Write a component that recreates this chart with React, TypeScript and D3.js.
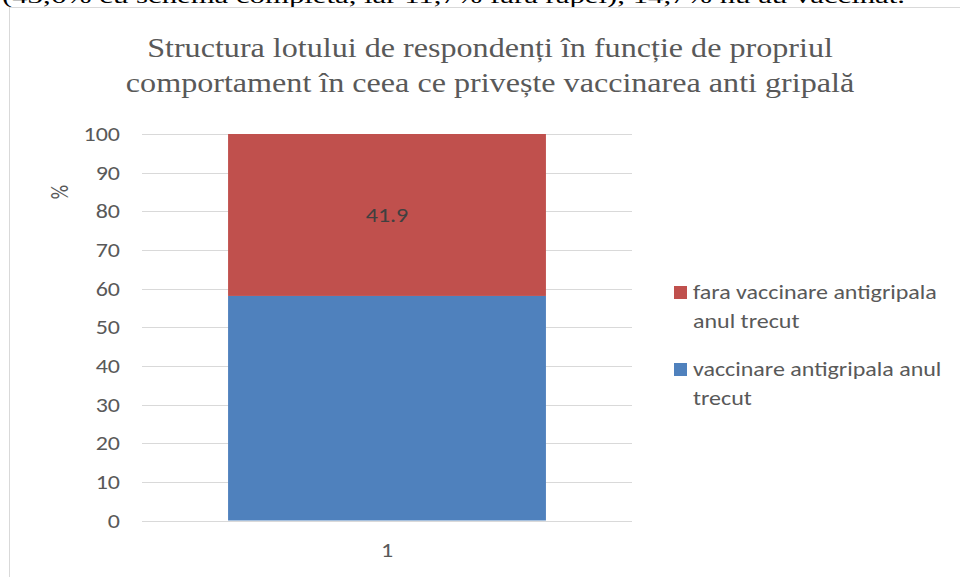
import React from "react";
import * as d3 from "d3";

const categories = ["1"];
const seriesNames = ["vaccinare antigripala anul trecut", "fara vaccinare antigripala anul trecut"];
const vaccinated = [58.1];
const notVaccinated = [41.9];
const yTicks = [0, 10, 20, 30, 40, 50, 60, 70, 80, 90, 100];
const titleLines = [
  "Structura lotului de respondenți în funcție de propriul",
  "comportament în ceea ce privește vaccinarea anti gripală",
];
const legendLines = [
  ["fara vaccinare antigripala", "anul trecut"],
  ["vaccinare antigripala anul", "trecut"],
];
const topText = "(43,6% cu schema completă, iar 11,7% fără rapel), 14,7% nu au vaccinat.";

const W = 960;
const H = 577;
const COLORS = { blue: "#4F81BD", red: "#C0504D" };
const SANS = "Carlito, Calibri, Lato, 'Open Sans', sans-serif";
const SERIF = "'Liberation Serif', 'Times New Roman', serif";
const SX_SANS = 1.2;
const SX_SERIF = 1.19;

function SText(props: {
  x: number; y: number; sx: number; anchor?: string; family: string; size: number; fill: string;
  dy?: string; children: any;
}) {
  const { x, y, sx, anchor, family, size, fill, dy, children } = props;
  return (
    <text
      transform={`translate(${x},${y}) scale(${sx},1)`}
      textAnchor={anchor || "start"}
      fontFamily={family}
      fontSize={size}
      fill={fill}
      dy={dy}
    >
      {children}
    </text>
  );
}

export default function App() {
  const y = d3.scaleLinear().domain([0, 100]).range([520.5, 134]);
  const x = d3.scaleBand().domain(categories).range([142, 632]).paddingInner(0.35).paddingOuter(0.176);
  const stack = d3.stack<any>().keys(["v", "n"])(
    categories.map((c, i) => ({ cat: c, v: vaccinated[i], n: notVaccinated[i] }))
  );
  const colors = [COLORS.blue, COLORS.red];
  const legendColors = [COLORS.red, COLORS.blue];
  const legendY = [299, 376];

  return (
    <svg width={W} height={H} style={{ position: "absolute", left: 0, top: 0, background: "#fff" }}>
      <text x={2} y={3} fontFamily={SERIF} fontSize={22} fill="#000" textLength={903} lengthAdjust="spacingAndGlyphs">{topText}</text>
      <rect x={9.5} y={7.5} width={W} height={H} fill="none" stroke="#d9d9d9" strokeWidth={1} />
      {titleLines.map((t, i) => (
        <SText key={i} x={490} y={57 + i * 35} sx={SX_SERIF} anchor="middle" family={SERIF} size={27} fill="#595959">{t}</SText>
      ))}
      {yTicks.map((t) => (
        <g key={t}>
          <line x1={142} x2={632} y1={Math.round(y(t)) + 0.5} y2={Math.round(y(t)) + 0.5} stroke="#d9d9d9" strokeWidth={1} />
          <SText x={120} y={y(t)} sx={SX_SANS} dy="0.35em" anchor="end" family={SANS} size={20} fill="#595959">{t}</SText>
        </g>
      ))}
      <text transform={`translate(68,192) rotate(-90) scale(1,${SX_SANS})`} textAnchor="middle" fontFamily={SANS} fontSize={20} fill="#595959">%</text>
      {stack.map((s, si) =>
        s.map((d, di) => (
          <rect key={`${si}-${di}`} x={x(categories[di])!} width={x.bandwidth()} y={y(d[1])} height={y(d[0]) - y(d[1])} fill={colors[si]} />
        ))
      )}
      {stack[1].map((d, di) => (
        <SText key={di} x={x(categories[di])! + x.bandwidth() / 2} y={y((d[0] + d[1]) / 2)} sx={SX_SANS} dy="0.35em" anchor="middle" family={SANS} size={20} fill="#404040">{notVaccinated[di]}</SText>
      ))}
      {categories.map((c) => (
        <SText key={c} x={x(c)! + x.bandwidth() / 2} y={557} sx={SX_SANS} anchor="middle" family={SANS} size={20} fill="#595959">{c}</SText>
      ))}
      {legendLines.map((lines, i) => (
        <g key={i}>
          <rect x={674} y={legendY[i] - 13} width={13} height={13} fill={legendColors[i]} />
          {lines.map((l, j) => (
            <SText key={j} x={693} y={legendY[i] + j * 29} sx={SX_SANS} family={SANS} size={20} fill="#595959">{l}</SText>
          ))}
        </g>
      ))}
    </svg>
  );
}
